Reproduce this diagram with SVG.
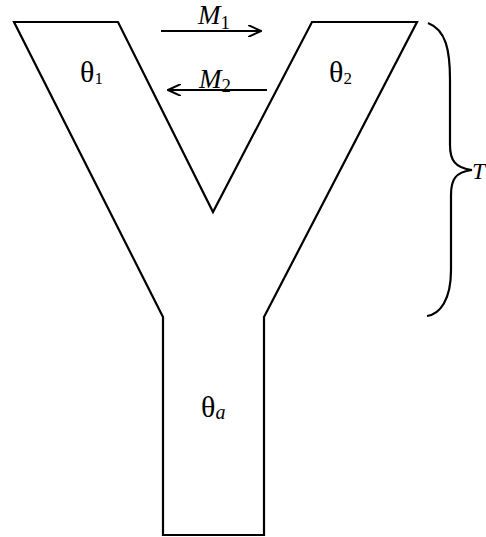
<svg xmlns="http://www.w3.org/2000/svg" width="486" height="537" viewBox="0 0 486 537">
<style>
.ln{fill:none;stroke:#000;stroke-width:2.2;stroke-linejoin:miter}
.t{font-family:"Liberation Serif","Times New Roman",serif;fill:#000}
.i{font-style:italic}
</style>
<defs>
<marker id="ah" markerWidth="14" markerHeight="12" refX="13" refY="6" orient="auto" markerUnits="userSpaceOnUse">
<path d="M0,0 L13,6 L0,12" fill="none" stroke="#000" stroke-width="2"/>
</marker>
</defs>
<rect width="486" height="537" fill="#fff"/>
<g id="y-shape">
<polygon class="ln" points="14,22 118,22 213,212 312,22 417,22 264,317 264,535 163,535 163,317"/>
<text class="t" x="80" y="82" font-size="30">θ<tspan font-size="17" dy="2">1</tspan></text>
<text class="t" x="329" y="82" font-size="30">θ<tspan font-size="17" dy="2">2</tspan></text>
<text class="t" x="201" y="417" font-size="30">θ<tspan class="i" font-size="20" dy="2">a</tspan></text>
</g>
<g id="connectors">
<line class="ln" x1="161" y1="31" x2="261" y2="31" marker-end="url(#ah)"/>
<line class="ln" x1="267" y1="90" x2="168" y2="90" marker-end="url(#ah)"/>
</g>
<g id="labels">
<text class="t i" x="198" y="24" font-size="27">M<tspan font-size="19" font-style="normal" dy="5">1</tspan></text>
<text class="t i" x="199" y="88" font-size="27">M<tspan font-size="19" font-style="normal" dy="4">2</tspan></text>
</g>
<g id="brace">
<path class="ln" stroke-width="2" d="M428,23 C446,30 450,50 450,80 L450,145 C450,160 455,168 472,170 C455,172 451,180 451,195 L451,270 C451,300 440,314 427,316"/>
<text class="t i" x="472" y="179" font-size="24">T</text>
</g>
</svg>
